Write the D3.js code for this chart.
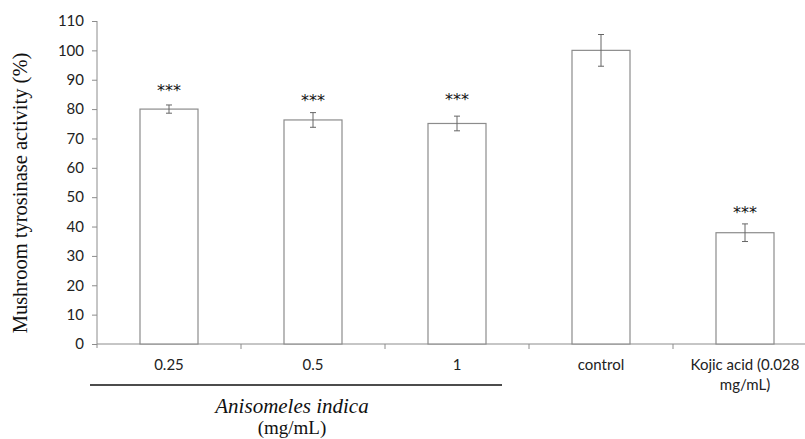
<!DOCTYPE html>
<html>
<head>
<meta charset="utf-8">
<script src="https://cdn.jsdelivr.net/npm/d3@7"></script>
<style>
  body { margin: 0; background: #fff; }
  svg { display: block; }
</style>
</head>
<body>
<script>
// values
var categories = ["0.25", "0.5", "1", "control", "Kojic acid (0.028 mg/mL)"];
var tickLabels = [["0.25"], ["0.5"], ["1"], ["control"], ["Kojic acid (0.028", "mg/mL)"]];
var activity = [80, 76.3, 75.1, 100, 37.9];
var errors = [1.4, 2.5, 2.5, 5.4, 3.0];
var stars = ["***", "***", "***", "", "***"];
var starLevel = [87.2, 83.8, 84.2, 0, 45.6];
var yTicks = [0, 10, 20, 30, 40, 50, 60, 70, 80, 90, 100, 110];

var width = 805, height = 439;

var svg = d3.select("body")
    .append("svg")
    .attr("width", width)
    .attr("height", height);

var x = d3.scaleBand()
    .domain(categories)
    .range([97, 817])
    .paddingInner(0)
    .paddingOuter(0);

var y = d3.scaleLinear()
    .domain([0, 110])
    .range([344, 21]);

var barW = 58;
var grey = "#8c8c8c";

// y axis
var yAxis = d3.axisLeft(y).tickValues(yTicks).tickSize(5).tickPadding(8);
var gy = svg.append("g")
    .attr("transform", "translate(97,0)")
    .call(yAxis);
gy.select(".domain").remove();
gy.selectAll(".tick line").attr("stroke", grey);
gy.selectAll(".tick text")
    .attr("fill", "#222")
    .style("font-family", "Lato, 'Open Sans', sans-serif")
    .style("font-size", "15px");
svg.append("line")
    .attr("x1", 97).attr("x2", 97)
    .attr("y1", y(110)).attr("y2", y(0) + 4)
    .attr("stroke", grey);

// x axis line and ticks at band boundaries
svg.append("line")
    .attr("x1", 97).attr("x2", width)
    .attr("y1", y(0)).attr("y2", y(0))
    .attr("stroke", grey);
svg.selectAll(".xtick")
    .data(categories.slice(1))
    .enter()
    .append("line")
    .attr("class", "xtick")
    .attr("x1", function(d){ return x(d); })
    .attr("x2", function(d){ return x(d); })
    .attr("y1", y(0))
    .attr("y2", y(0) + 5)
    .attr("stroke", grey);

// bars
svg.selectAll(".bar")
    .data(categories)
    .enter()
    .append("rect")
    .attr("class", "bar")
    .attr("x", function(d){ return x(d) + x.bandwidth() / 2 - barW / 2; })
    .attr("width", barW)
    .attr("y", function(d, i){ return y(activity[i]); })
    .attr("height", function(d, i){ return y(0) - y(activity[i]); })
    .attr("fill", "#fff")
    .attr("stroke", grey)
    .attr("stroke-width", 1.2);

// error bars
var eb = svg.selectAll(".err")
    .data(categories)
    .enter()
    .append("g")
    .attr("class", "err")
    .attr("stroke", "#666")
    .attr("stroke-width", 1);
eb.append("line")
    .attr("x1", function(d){ return x(d) + x.bandwidth() / 2; })
    .attr("x2", function(d){ return x(d) + x.bandwidth() / 2; })
    .attr("y1", function(d, i){ return y(activity[i] + errors[i]); })
    .attr("y2", function(d, i){ return y(activity[i] - errors[i]); });
eb.append("line")
    .attr("x1", function(d){ return x(d) + x.bandwidth() / 2 - 3; })
    .attr("x2", function(d){ return x(d) + x.bandwidth() / 2 + 3; })
    .attr("y1", function(d, i){ return y(activity[i] + errors[i]); })
    .attr("y2", function(d, i){ return y(activity[i] + errors[i]); });
eb.append("line")
    .attr("x1", function(d){ return x(d) + x.bandwidth() / 2 - 3; })
    .attr("x2", function(d){ return x(d) + x.bandwidth() / 2 + 3; })
    .attr("y1", function(d, i){ return y(activity[i] - errors[i]); })
    .attr("y2", function(d, i){ return y(activity[i] - errors[i]); });

// significance stars
svg.selectAll(".star")
    .data(categories)
    .enter()
    .append("text")
    .attr("class", "star")
    .attr("x", function(d){ return x(d) + x.bandwidth() / 2; })
    .attr("y", function(d, i){ return y(starLevel[i]) + 8; })
    .attr("text-anchor", "middle")
    .style("font-family", "'DejaVu Sans', sans-serif")
    .style("font-size", "16px")
    .attr("fill", "#111")
    .text(function(d, i){ return stars[i]; });

// category labels
var lbl = svg.selectAll(".xlabel")
    .data(categories)
    .enter()
    .append("text")
    .attr("class", "xlabel")
    .attr("text-anchor", "middle")
    .attr("fill", "#222")
    .style("font-family", "Lato, 'Open Sans', sans-serif")
    .style("font-size", "15px");
lbl.selectAll("tspan")
    .data(function(d, i){
        return tickLabels[i].map(function(t){ return { t: t, c: x(d) + x.bandwidth() / 2 }; });
    })
    .enter()
    .append("tspan")
    .attr("x", function(d){ return d.c; })
    .attr("y", function(d, j){ return 370 + j * 20; })
    .text(function(d){ return d.t; });

// group bracket
svg.append("line")
    .attr("x1", 90).attr("x2", 502)
    .attr("y1", 385).attr("y2", 385)
    .attr("stroke", "#111")
    .attr("stroke-width", 1.5);
svg.append("text")
    .attr("x", 292).attr("y", 413)
    .attr("text-anchor", "middle")
    .style("font-family", "'Liberation Serif', serif")
    .style("font-style", "italic")
    .style("font-size", "21px")
    .attr("fill", "#111")
    .text("Anisomeles indica");
svg.append("text")
    .attr("x", 292).attr("y", 434)
    .attr("text-anchor", "middle")
    .style("font-family", "'Liberation Serif', serif")
    .style("font-size", "19px")
    .attr("fill", "#111")
    .text("(mg/mL)");

// y title
svg.append("text")
    .attr("transform", "translate(27,193) rotate(-90)")
    .attr("text-anchor", "middle")
    .style("font-family", "'Liberation Serif', serif")
    .style("font-size", "20.5px")
    .attr("fill", "#111")
    .text("Mushroom tyrosinase activity (%)");
</script>
</body>
</html>
